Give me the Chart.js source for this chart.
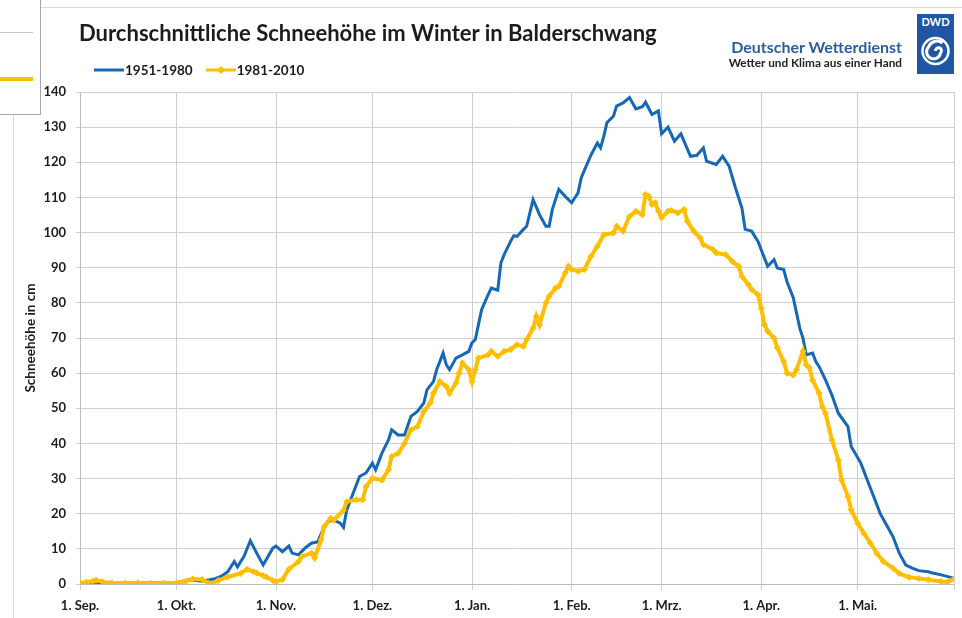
<!DOCTYPE html>
<html lang="de">
<head>
<meta charset="utf-8">
<title>Durchschnittliche Schneehöhe im Winter in Balderschwang</title>
<script src="https://cdn.jsdelivr.net/npm/chart.js@4.4.1/dist/chart.umd.min.js"></script>
<style>
  html, body { margin: 0; padding: 0; background: #fff; overflow: hidden; }
  #wrap { position: relative; width: 962px; height: 618px; font-family: Lato, 'Open Sans', sans-serif; }
  #frame { position: absolute; left: 13px; top: 7px; width: 1000px; height: 700px; border: 1px solid #d9d9d9; box-sizing: border-box; }
  #chart { position: absolute; left: 0; top: 0; }
  #title { position: absolute; left: 79px; top: 19px; font-weight: 700; font-size: 22px; color: #1c1c1c; white-space: nowrap; }
  #legend { position: absolute; left: 94px; top: 62px; display: flex; gap: 13px; font-weight: 700; font-size: 13.5px; color: #1c1c1c; }
  #legend span { display: inline-flex; align-items: center; }
  #legend svg { margin-right: 1px; }
  #dwd { position: absolute; right: 60px; top: 38px; text-align: right; white-space: nowrap; }
  #dwd .n { font-weight: 700; font-size: 16px; color: #2d5d9c; line-height: 18px; }
  #dwd .s { font-weight: 700; font-size: 11.8px; color: #222; line-height: 14px; }
  #logo { position: absolute; left: 917px; top: 14px; }
  #stub { position: absolute; left: -1px; top: -1px; width: 42px; height: 116px; background: #fff; border: 1px solid #a6a6a6; box-sizing: border-box; }
  #stub .l1 { position: absolute; left: 0; top: 32px; width: 33px; height: 1px; background: #c8c8c8; }
  #stub .l2 { position: absolute; left: 0; top: 77px; width: 33px; height: 4px; background: #ffbf00; }
</style>
</head>
<body>
<div id="wrap">
  <div id="frame"></div>
  <canvas id="chart" width="962" height="618"></canvas>
  <div id="title">Durchschnittliche Schneehöhe im Winter in Balderschwang</div>
  <div id="legend">
    <span><svg width="30" height="10"><line x1="0" y1="5" x2="30" y2="5" stroke="#1567b8" stroke-width="3"/></svg>1951-1980</span>
    <span><svg width="30" height="10"><line x1="0" y1="5" x2="30" y2="5" stroke="#ffbf00" stroke-width="3"/><path d="M15 1 L19 5 L15 9 L11 5 Z" fill="#ffbf00"/></svg>1981-2010</span>
  </div>
  <div id="dwd">
    <div class="n">Deutscher Wetterdienst</div>
    <div class="s">Wetter und Klima aus einer Hand</div>
  </div>
  <svg id="logo" width="37" height="60" viewBox="0 0 37 60">
    <rect x="0" y="0" width="37" height="60" fill="#1f57a4"/>
    <text x="18.5" y="12" text-anchor="middle" font-family="Lato, sans-serif" font-weight="700" font-size="11" fill="#fff">DWD</text>
    <circle cx="18.5" cy="37" r="13" fill="none" stroke="#fff" stroke-width="2.5"/>
    <path d="M18.5 37 a3 3 0 1 1 5 2 a7 7 0 1 1 -12 -6 a9 9 0 0 1 14 -4" fill="none" stroke="#fff" stroke-width="3"/>
  </svg>
  <div id="stub"><div class="l1"></div><div class="l2"></div></div>
</div>
<script>
// day index from 1 Sep (0) to 31 May (272)
const tickDays = [0, 30, 61, 91, 122, 153, 181, 212, 242, 272];
const tickLabels = ['1. Sep.', '1. Okt.', '1. Nov.', '1. Dez.', '1. Jan.', '1. Feb.', '1. Mrz.', '1. Apr.', '1. Mai.', ''];

// 1951-1980
const blueDay = [0, 15, 30, 34, 38, 42, 44, 46, 48, 49, 51, 53, 55, 57, 60, 61, 63, 65, 66, 68,
  70, 72, 74, 76, 77, 79, 81, 82, 83, 85, 87, 89, 91, 92, 94, 96, 97, 99, 101, 103,
  105, 107, 108, 110, 111, 113, 114, 115, 117, 119, 121, 122, 123, 124, 125, 127, 128, 130, 131, 132,
  134, 135, 136, 138, 139, 141, 143, 145, 146, 147, 149, 151, 153, 155, 156, 159, 161, 162, 163, 164,
  166, 167, 169, 171, 173, 175, 176, 178, 180, 181, 183, 185, 187, 190, 192, 194, 195, 198, 200, 202,
  204, 206, 207, 209, 211, 214, 216, 217, 219, 220, 222, 224, 225, 226, 228, 229, 230, 232, 234, 236,
  239, 240, 243, 245, 247, 249, 251, 253, 255, 257, 259, 261, 264, 265, 268, 271, 272];
const blueCm = [0.2, 0.2, 0.4, 1.2, 0.8, 1.5, 2.2, 3.5, 6.4, 4.9, 7.8, 12.3, 8.8, 5.4, 10.2, 10.8, 9.2, 10.8, 8.8, 8.3,
  10.2, 11.6, 12, 16.3, 17.7, 18.2, 17.3, 16.1, 21, 25.8, 30.6, 31.6, 34.4, 32.5, 37.3, 41, 43.9, 42.4, 42.4, 47.7,
  49.1, 51.5, 55.3, 57.6, 61, 65.7, 62.4, 61, 64.3, 65.2, 66.2, 68.7, 69.5, 73.8, 78.1, 82.3, 84.2, 83.6, 91.4, 93.7,
  97.5, 99.1, 98.9, 100.9, 101.8, 109.4, 105.1, 101.8, 101.8, 106.6, 112.3, 110.3, 108.5, 111.3, 115.6, 122, 125.5, 124.1, 127.4, 131.3,
  133.1, 136, 136.9, 138.4, 135.2, 135.8, 137.1, 133.6, 134.6, 128.1, 130, 126, 128.1, 121.7, 122, 124.1, 120.3, 119.4, 121.7, 118.9,
  112.7, 107, 100.9, 100.4, 97.5, 90.4, 92.3, 89.9, 89.5, 86.1, 81.4, 72.8, 70, 65.2, 65.7, 63.3, 61.9, 58.1, 53.8, 48.6,
  44.8, 39.1, 34.4, 29.6, 24.9, 20.1, 16.8, 13.5, 8.7, 5.4, 4.5, 3.8, 3.5, 3.2, 2.6, 1.9, 1.6];

// 1981-2010
const goldDay = [0, 2, 4, 5, 7, 10, 14, 18, 22, 26, 30, 33, 35, 38, 40, 41, 43, 46, 50, 52,
  54, 55, 57, 58, 60, 61, 63, 65, 68, 69, 72, 73, 75, 76, 78, 79, 82, 83, 86, 88,
  89, 91, 94, 96, 97, 99, 101, 103, 105, 107, 109, 110, 112, 114, 115, 117, 118, 119, 121, 122,
  123, 124, 127, 128, 130, 132, 134, 136, 138, 139, 141, 142, 143, 145, 146, 148, 149, 151, 152, 153,
  155, 157, 159, 161, 163, 166, 167, 169, 171, 173, 175, 176, 177, 178, 179, 180, 181, 183, 184, 186,
  188, 189, 191, 193, 194, 197, 198, 201, 203, 205, 206, 208, 209, 211, 212, 213, 214, 216, 217, 219,
  220, 222, 223, 225, 226, 227, 228, 230, 231, 232, 234, 236, 237, 239, 240, 242, 244, 246, 248, 250,
  253, 255, 258, 261, 264, 268, 270, 272];
const goldCm = [0.3, 0.5, 0.8, 1.1, 0.6, 0.3, 0.2, 0.3, 0.2, 0.3, 0.3, 0.8, 1.4, 1.3, 0.3, 0.1, 1, 2, 3, 4.2,
  3.5, 3.1, 2.4, 2, 1, 0.6, 1.3, 4.2, 6.4, 7.8, 8.8, 7.4, 12.5, 16.3, 18.7, 18.2, 21, 23.4, 24, 24,
  27.7, 30.1, 29.6, 32.5, 36.3, 37.2, 40, 43.9, 44.8, 49.1, 51.5, 54.3, 57.6, 56.2, 54.3, 57.2, 60, 62.9, 61, 57.6,
  61, 64.3, 65.2, 66.2, 64.8, 66.2, 66.7, 68.1, 67.6, 69.5, 72.8, 76.2, 73.8, 80, 81.9, 84.2, 84.7, 88.5, 90.4, 89.5,
  89, 89.5, 93.2, 96.1, 99.4, 99.9, 101.8, 100.4, 104.6, 106.1, 105.1, 110.8, 110.3, 108, 108.5, 106.1, 104.2, 106.1, 106.3, 105.6,
  106.6, 103.2, 100.4, 98.5, 96.6, 95.2, 94.2, 93.7, 91.8, 90.4, 87.5, 85.2, 83.8, 82.3, 78.5, 73.8, 71.9, 70, 67.2, 63.3,
  60, 59.5, 61, 66.2, 62.4, 61.5, 58, 54.3, 50.5, 48.6, 41, 35.3, 29.6, 24.9, 21.1, 17.3, 14.4, 11.6, 8.7, 6.4,
  4.5, 3, 1.9, 1.6, 1.2, 0.7, 0.6, 1.5];

const BLUE = '#1567b8';
const GOLD = '#ffbf00';
const FONT = 'Lato, "Open Sans", sans-serif';
const INK = '#1c1c1c';

const toPoints = (xs, ys) => xs.map((x, i) => ({ x, y: ys[i] }));

new Chart(document.getElementById('chart').getContext('2d'), {
  type: 'line',
  data: {
    datasets: [
      {
        label: '1951-1980',
        data: toPoints(blueDay, blueCm),
        borderColor: BLUE,
        borderWidth: 3,
        pointRadius: 0,
        tension: 0,
        order: 1,
      },
      {
        label: '1981-2010',
        data: toPoints(goldDay, goldCm),
        borderColor: GOLD,
        backgroundColor: GOLD,
        borderWidth: 4,
        pointStyle: 'rectRot',
        pointRadius: 3.5,
        pointBorderWidth: 0,
        pointBackgroundColor: GOLD,
        tension: 0,
        order: 0,
      },
    ],
  },
  options: {
    responsive: false,
    animation: false,
    layout: { padding: { left: 14, top: 92, right: 5, bottom: 4 } },
    plugins: {
      legend: { display: false },
      tooltip: { enabled: false },
    },
    scales: {
      x: {
        type: 'linear',
        min: 0,
        max: 272,
        afterBuildTicks(axis) { axis.ticks = tickDays.map(v => ({ value: v })); },
        afterFit(scale) { scale.height = 30; },
        ticks: {
          autoSkip: false,
          maxRotation: 0,
          padding: 8,
          color: INK,
          font: { family: FONT, size: 13, weight: 'bold' },
          callback(v) { const i = tickDays.indexOf(v); return i >= 0 ? tickLabels[i] : ''; },
        },
        grid: { color: '#cfcfcf', lineWidth: 1, tickLength: 6 },
        border: { color: '#bcbcbc' },
      },
      y: {
        min: 0,
        max: 140,
        afterFit(scale) { scale.width = 66; },
        ticks: {
          stepSize: 10,
          padding: 10,
          color: INK,
          font: { family: FONT, size: 13, weight: 'bold' },
        },
        grid: { color: '#cfcfcf', lineWidth: 1, tickLength: 4 },
        border: { color: '#bcbcbc' },
        title: {
          display: true,
          text: 'Schneehöhe in cm',
          color: INK,
          padding: { top: 9, bottom: 0 },
          font: { family: FONT, size: 13.5, weight: 'bold' },
        },
      },
    },
  },
});
</script>
</body>
</html>
